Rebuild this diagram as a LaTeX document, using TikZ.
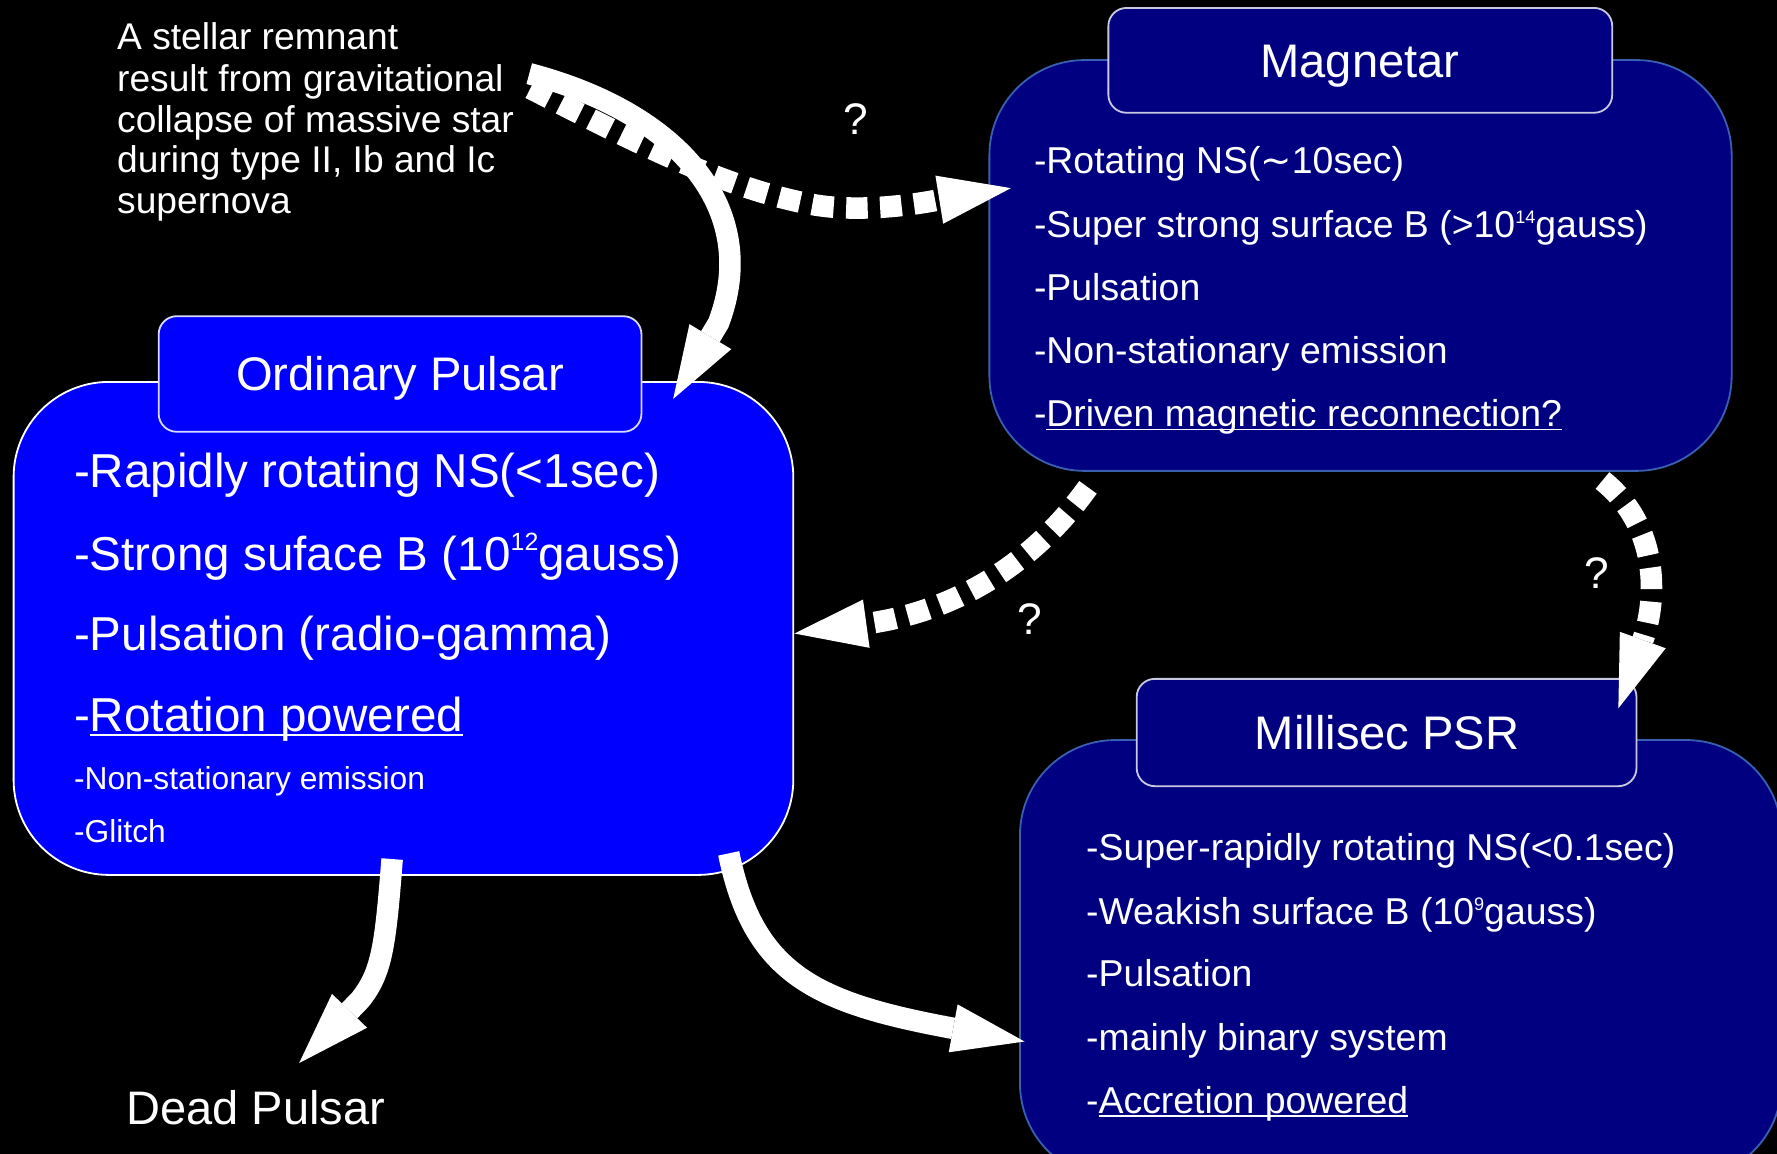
\documentclass[tikz,border=0pt]{standalone}
\usepackage{fontspec}
\setmainfont{Liberation Sans}
\newfontfamily\djv{DejaVu Sans}
\usetikzlibrary{arrows.meta}
\definecolor{opblue}{HTML}{0000FF}
\definecolor{navybox}{HTML}{000080}
\definecolor{navyedge}{HTML}{3A5FB0}
\definecolor{hdredge}{HTML}{C8C8E0}
\newcommand\supr[3]{\raisebox{#2}{\fontsize{#1}{#1}\selectfont #3}}
\newcommand\ulin[1]{\setbox0=\hbox{#1}\rlap{\rule[-0.1em]{\wd0}{0.05em}}\box0}
\begin{document}
\begin{tikzpicture}[x=0.5pt,y=-0.5pt,
  bigop/.style={draw=white, line width=0.8pt, fill=opblue, rounded corners=42pt, inner sep=0pt, outer sep=0pt},
  hdrop/.style={draw=white!85!blue, line width=0.8pt, fill=opblue, rounded corners=8pt, inner sep=0pt, outer sep=0pt},
  bignv/.style={draw=navyedge, line width=0.8pt, fill=navybox, rounded corners=42pt, inner sep=0pt, outer sep=0pt},
  hdrnv/.style={draw=hdredge, line width=0.8pt, fill=navybox, rounded corners=8pt, inner sep=0pt, outer sep=0pt},
  txt/.style={text=white, inner sep=0pt, anchor=base west},
  ttl/.style={text=white, inner sep=0pt, anchor=base, font=\fontsize{20.8pt}{24pt}\selectfont},
  optxt/.style={txt, font=\fontsize{21pt}{25pt}\selectfont},
  opsmall/.style={txt, font=\fontsize{14pt}{17pt}\selectfont},
  boxtxt/.style={txt, font=\fontsize{16.5pt}{20pt}\selectfont},
  notetxt/.style={txt, font=\fontsize{16.4pt}{18pt}\selectfont},
  deadtxt/.style={txt, font=\fontsize{20.75pt}{24pt}\selectfont},
  qm/.style={text=white, inner sep=0pt, anchor=base, font=\fontsize{19.5pt}{22pt}\selectfont},
  solidarr/.style={draw=white, line width=9.5pt, -{Triangle[length=32pt,width=21.5pt,line width=0pt]}},
  dasharr/.style={solidarr, dash pattern=on 9.5pt off 5.5pt}
]
\clip (0,0) rectangle (1568,1018);
\fill[black] (0,0) rectangle (1568,1018);

% boxes
\node[bigop, minimum width=344pt, minimum height=217.5pt] (op) at (356,554.5) {};
\node[hdrop, minimum width=213pt, minimum height=51pt] (oph) at (353,330) {};
\node[bignv, minimum width=327.5pt, minimum height=181.25pt] (mg) at (1200.5,234.25) {};
\node[hdrnv, minimum width=222.3pt, minimum height=46.25pt] (mgh) at (1200.3,53.25) {};
\node[bignv, minimum width=336pt, minimum height=193.5pt] (ms) at (1236,846.5) {};
\node[hdrnv, minimum width=220.5pt, minimum height=47.35pt] (msh) at (1223.5,646.35) {};

% titles
\node[ttl] (opt) at (353,345) {Ordinary Pulsar};
\node[ttl] (mgt) at (1200,68) {Magnetar};
\node[ttl] (mst) at (1224,661) {Millisec PSR};

% ordinary pulsar text
\node[optxt] (op1) at (65,430) {-Rapidly rotating NS(<1sec)};
\node[optxt] (op2) at (65,503) {-Strong suface B (10\supr{11pt}{8.5pt}{12}gauss)};
\node[optxt] (op3) at (65,574) {-Pulsation (radio-gamma)};
\node[optxt] (op4) at (65,645.5) {-\ulin{Rotation powered}};
\node[opsmall] (op5) at (65,697) {-Non-stationary emission};
\node[opsmall] (op6) at (65,743.5) {-Glitch};

% magnetar text
\node[boxtxt] (mg1) at (912,153) {-Rotating NS({\djv ∼}10sec)};
\node[boxtxt] (mg2) at (912,209.5) {-Super strong surface B (>10\supr{8pt}{6pt}{14}gauss)};
\node[boxtxt] (mg3) at (912,265) {-Pulsation};
\node[boxtxt] (mg4) at (912,321) {-Non-stationary emission};
\node[boxtxt] (mg5) at (912,376.5) {-\ulin{Driven magnetic reconnection?}};

% millisec text
\node[boxtxt] (ms1) at (958,759) {-Super-rapidly rotating NS(<0.1sec)};
\node[boxtxt] (ms2) at (958,815.5) {-Weakish surface B (10\supr{8pt}{6pt}{9}gauss)};
\node[boxtxt] (ms3) at (958,870.6) {-Pulsation};
\node[boxtxt] (ms4) at (958,926.5) {-mainly binary system};
\node[boxtxt] (ms5) at (958,982.5) {-\ulin{Accretion powered}};

% note text
\node[notetxt] (n1) at (103,44) {A stellar remnant};
\node[notetxt] (n2) at (103,80.5) {result from gravitational};
\node[notetxt] (n3) at (103,116.5) {collapse of massive star};
\node[notetxt] (n4) at (103,152.5) {during type II, Ib and Ic};
\node[notetxt] (n5) at (103,188.5) {supernova};

\node[deadtxt] (dead) at (111,992) {Dead Pulsar};

\node[qm] (q1) at (755,119) {?};
\node[qm] (q2) at (909,559.5) {?};
\node[qm] (q3) at (1409,519) {?};

% connector end points
\coordinate (a1s) at (467,65);
\coordinate (a1m) at (634,285);
\coordinate (a1e) at (594,352);
\coordinate (a2s) at (468,78);
\coordinate (a2m) at (720,181);
\coordinate (a2e) at (892,166);
\coordinate (a3s) at (960,430);
\coordinate (a3e) at (701,559);
\coordinate (a4s) at (1414,424);
\coordinate (a4e) at (1428,625);
\coordinate (a5s) at (346,758);
\coordinate (a5m) at (318,882);
\coordinate (a5e) at (264,938);
\coordinate (a6s) at (643,753);
\coordinate (a6e) at (904,919);

% connectors
\draw[dasharr] (a2s) .. controls (560,125) and (640,167) .. (a2m) .. controls (770,189) and (830,176) .. (a2e);
\draw[solidarr] (a1s) .. controls (600,100) and (672,185) .. (a1m) -- (a1e);
\draw[dasharr] (a3s) .. controls (910,500) and (840,540) .. (a3e);
\draw[dasharr] (a4s) .. controls (1465,465) and (1462,530) .. (a4e);
\draw[solidarr] (a5s) .. controls (340,835) and (337,858) .. (a5m) -- (a5e);
\draw[solidarr] (a6s) .. controls (665,860) and (720,885) .. (a6e);
\end{tikzpicture}
\end{document}
